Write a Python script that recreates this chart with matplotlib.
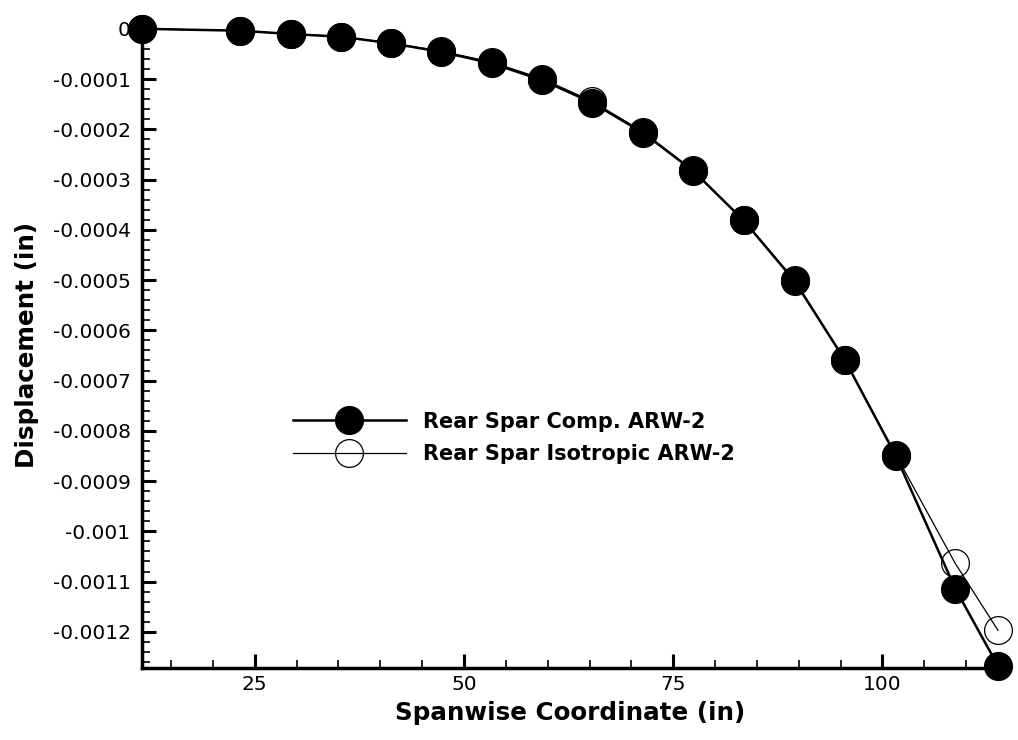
import numpy as np
import matplotlib
matplotlib.use('Agg')
import matplotlib.pyplot as plt
from matplotlib.ticker import MultipleLocator, FixedLocator, FixedFormatter

# spanwise stations (in)
span_x = [11.5, 23.3, 29.3, 35.3, 41.3, 47.2, 53.3, 59.3, 65.3, 71.4,
          77.4, 83.4, 89.5, 95.5, 101.6, 108.7, 113.8]

# rear spar, composite
comp_disp = [0.0, -0.0000038, -0.0000104, -0.0000157, -0.0000289, -0.0000456,
             -0.0000687, -0.000102, -0.000147, -0.000207, -0.000283, -0.000381,
             -0.000502, -0.000659, -0.000850, -0.001114, -0.001268]

# rear spar, isotropic
iso_disp = [0.0, -0.0000038, -0.0000104, -0.0000157, -0.0000287, -0.0000441,
            -0.0000662, -0.000099, -0.000144, -0.000205, -0.000282, -0.000381,
            -0.000500, -0.000659, -0.000848, -0.001064, -0.001197]

series_names = ['Rear Spar Comp. ARW-2', 'Rear Spar Isotropic ARW-2']

x_ticks = [25, 50, 75, 100]
y_ticks = [0, -0.0001, -0.0002, -0.0003, -0.0004, -0.0005, -0.0006,
           -0.0007, -0.0008, -0.0009, -0.001, -0.0011, -0.0012]
y_tick_labels = ['0', '-0.0001', '-0.0002', '-0.0003', '-0.0004', '-0.0005',
                 '-0.0006', '-0.0007', '-0.0008', '-0.0009', '-0.001',
                 '-0.0011', '-0.0012']


def draw_curves(ax):
    ax.plot(span_x, comp_disp, color='black', lw=1.8, marker='o', ms=20,
            mfc='black', mec='black', label=series_names[0], zorder=3,
            clip_on=False)
    ax.plot(span_x, iso_disp, color='black', lw=0.9, marker='o', ms=20,
            mfc='none', mec='black', mew=0.9, label=series_names[1], zorder=4,
            clip_on=False)


def style_axes(ax):
    ax.set_xlim(11.5, 115)
    ax.set_ylim(-0.001272, 0)
    for side in ['top', 'right']:
        ax.spines[side].set_visible(False)
    for side in ['left', 'bottom']:
        ax.spines[side].set_linewidth(2.5)

    ax.xaxis.set_major_locator(FixedLocator(x_ticks))
    ax.xaxis.set_minor_locator(MultipleLocator(5))
    ax.yaxis.set_major_locator(FixedLocator(y_ticks))
    ax.yaxis.set_major_formatter(FixedFormatter(y_tick_labels))
    ax.yaxis.set_minor_locator(MultipleLocator(0.00002))

    ax.tick_params(which='major', direction='in', length=10, width=2.2,
                   labelsize=14.5)
    ax.tick_params(which='minor', direction='in', length=5.5, width=1.2)
    ax.tick_params(axis='x', which='major', pad=5)
    ax.tick_params(axis='y', which='major', pad=8)

    ax.set_xlabel('Spanwise Coordinate (in)', fontsize=17.7, fontweight='bold')
    ax.set_ylabel('Displacement (in)', fontsize=17.7, fontweight='bold')
    ax.xaxis.set_label_coords(0.494, -0.051)
    ax.yaxis.set_label_coords(-0.118, 0.505)


fig = plt.figure(figsize=(10.18, 7.40), dpi=100)
ax = fig.add_axes([0.1392, 0.0973, 0.851, 0.8638])
draw_curves(ax)
style_axes(ax)

ax.legend(loc='center left', bbox_to_anchor=(293 / 1018, (740 - 438) / 740),
          bbox_transform=fig.transFigure, frameon=False, borderpad=0,
          borderaxespad=0, handlelength=5.4, handletextpad=0.85,
          labelspacing=0.6, prop={'size': 15, 'weight': 'bold'})

fig.savefig('out.png', dpi=100)
